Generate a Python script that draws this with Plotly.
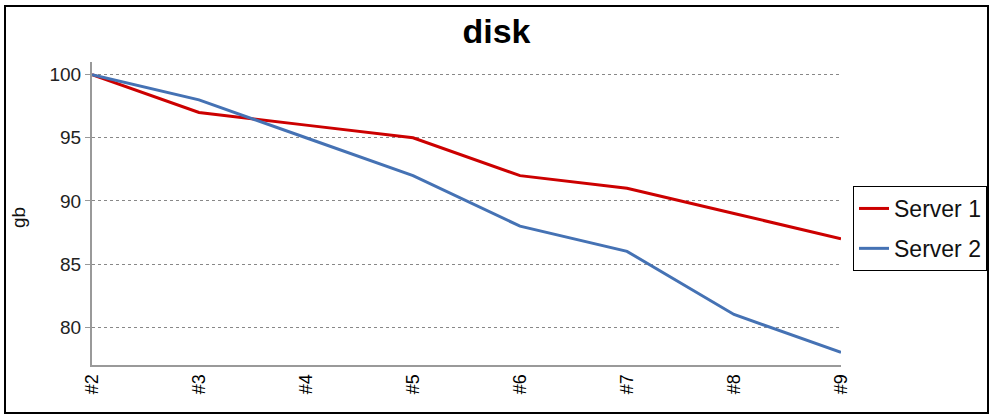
import plotly.graph_objects as go

categories = ["#2", "#3", "#4", "#5", "#6", "#7", "#8", "#9"]
server1 = [100, 97, 96, 95, 92, 91, 89, 87]
server2 = [100, 98, 95, 92, 88, 86, 81, 78]

W, H = 993, 416
L, R, T, B = 92, 152, 62, 51
pw, ph = W - L - R, H - T - B

def px(x):
    return (x - L) / pw

def py(y):
    return (H - B - y) / ph

FONT = "Liberation Sans, Arial, sans-serif"

fig = go.Figure()
fig.add_trace(go.Scatter(x=categories, y=server1, mode="lines", name="Server 1",
                         legendgroup="s1",
                         line=dict(color="#cc0000", width=3)))
fig.add_trace(go.Scatter(x=categories, y=server2, mode="lines", name="Server 2",
                         legendgroup="s2",
                         line=dict(color="#4572b4", width=3)))

fig.update_layout(
    width=W, height=H,
    margin=dict(l=L, r=R, t=T, b=B, autoexpand=False),
    paper_bgcolor="white", plot_bgcolor="white",
    font=dict(family=FONT, color="#222", size=18),
    title=dict(text="<b>disk</b>", x=0.5, xanchor="center", y=1 - 31 / H, yanchor="middle",
               font=dict(size=34, color="black", family=FONT)),
    showlegend=True,
    legend=dict(x=px(853), y=py(186), xanchor="left", yanchor="top",
                bordercolor="black", borderwidth=1, bgcolor="white",
                font=dict(size=23, color="#111", family=FONT), tracegroupgap=7,
                itemwidth=30),
    xaxis=dict(type="category", range=[0, 7], showgrid=False, showline=True,
               linecolor="#999", linewidth=2, ticks="", tickangle=-90,
               tickfont=dict(size=18, color="#000", family=FONT), zeroline=False),
    yaxis=dict(range=[77, 101], tickvals=[80, 85, 90, 95, 100], showgrid=True,
               gridcolor="#888", griddash="3px,3px", gridwidth=1,
               showline=True, linecolor="#999", linewidth=2, ticks="outside",
               ticklen=5, tickcolor="#999", tickfont=dict(size=19, color="#222", family=FONT),
               zeroline=False),
    annotations=[dict(text="gb", xref="paper", yref="paper", x=px(18), y=py(218),
                      xanchor="center", yanchor="middle", textangle=-90, showarrow=False,
                      font=dict(size=19, color="#111", family=FONT))],
    shapes=[dict(type="rect", xref="paper", yref="paper",
                 x0=px(5), x1=px(988), y0=py(413), y1=py(6),
                 line=dict(color="black", width=2), fillcolor="rgba(0,0,0,0)", layer="below")],
)

fig.write_html("out.html", config={"displayModeBar": False},
               post_script="document.body.style.margin='0';document.body.style.overflow='hidden';")
